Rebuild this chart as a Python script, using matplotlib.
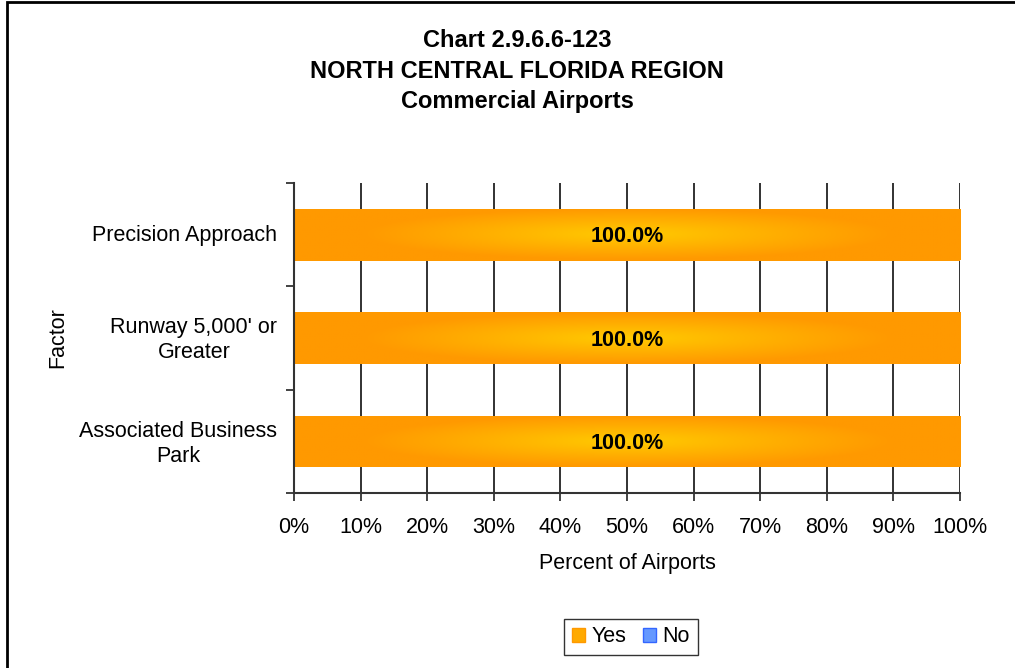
import numpy as np
import matplotlib
matplotlib.use("Agg")
import matplotlib.pyplot as plt
from matplotlib.patches import Rectangle, Patch
from matplotlib.colors import LinearSegmentedColormap

plt.rcParams['font.family'] = ['Liberation Sans', 'DejaVu Sans']

categories = ["Associated Business\nPark", "Runway 5,000' or\nGreater", "Precision Approach"]
yes_values = [100.0, 100.0, 100.0]
no_values = [0.0, 0.0, 0.0]
x_ticks = [0, 10, 20, 30, 40, 50, 60, 70, 80, 90, 100]
x_tick_labels = ["0%", "10%", "20%", "30%", "40%", "50%", "60%", "70%", "80%", "90%", "100%"]
title = "Chart 2.9.6.6-123\nNORTH CENTRAL FLORIDA REGION\nCommercial Airports"

W, H = 1015, 668
FS = 15.5
fig = plt.figure(figsize=(W / 100, H / 100), dpi=100)
ax = fig.add_axes([294 / W, 1 - 493 / H, (960 - 294) / W, (493 - 183) / H])

ypos = np.arange(len(categories))
bar_h = 0.5

ax.set_xlim(0, 100)
ax.set_ylim(-0.5, len(categories) - 0.5)

# gridlines
for xv in x_ticks[1:]:
    ax.axvline(xv, color='#222222', lw=1.3, zorder=1)

# gradient bars
cmap = LinearSegmentedColormap.from_list('og', ['#FFCC00', '#FFB300', '#FF9900'])
nx, ny = 300, 60
gx = np.linspace(0, 1, nx)
gy = np.linspace(0, 1, ny)
GX, GY = np.meshgrid(gx, gy)
D = np.sqrt(((GX - 0.5) / 0.4) ** 2 + ((GY - 0.5) / 0.5) ** 2)
D = np.clip(D, 0, 1) ** 0.9

bars = ax.barh(ypos, yes_values, height=bar_h, color='#FF9900', zorder=2, lw=0)
for b, v in zip(bars, yes_values):
    x0, y0 = b.get_x(), b.get_y()
    w, h = b.get_width(), b.get_height()
    im = ax.imshow(D, cmap=cmap, vmin=0, vmax=1, extent=[x0, x0 + w, y0, y0 + h],
                   aspect='auto', zorder=3, interpolation='bilinear')
    im.set_clip_path(b)
    ax.text(x0 + w / 2, y0 + h / 2 - 0.02, f"{v:.1f}%", ha='center', va='center',
            fontsize=FS, fontweight='bold', zorder=4)
ax.barh(ypos, no_values, left=yes_values, height=bar_h, color='#6699FF', zorder=2, lw=0)

ax.set_xticks(x_ticks)
ax.set_xticklabels(x_tick_labels, fontsize=FS)
ax.set_yticks(ypos + 0.02)
ax.set_yticklabels(categories, fontsize=FS, linespacing=1.25, ha='right',
                   multialignment='center')
ax.set_yticks(np.arange(-0.5, len(categories), 1.0), minor=True)
ax.tick_params(axis='y', which='major', length=0, pad=12)
ax.tick_params(axis='y', which='minor', length=6, width=1.2, color='#222222')
ax.tick_params(axis='x', which='major', length=6, width=1.2, color='#222222', pad=11)

for s in ['top', 'right']:
    ax.spines[s].set_visible(False)
for s in ['left', 'bottom']:
    ax.spines[s].set_color('#333333')
    ax.spines[s].set_linewidth(1.5)
ax.spines['left'].set_zorder(5)

ax.set_xlabel("Percent of Airports", fontsize=FS, labelpad=11)
ax.set_ylabel("Factor", fontsize=FS)
ax.yaxis.set_label_coords((68 - 294) / 666, 0.5)

fig.text(517 / W, 1 - 71 / H, title, ha='center', va='center', fontsize=17,
         fontweight='bold', linespacing=1.41)

# legend
handles = [Patch(facecolor='#FFAA00', edgecolor='#FF9900', label='Yes'),
           Patch(facecolor='#6699FF', edgecolor='#3366FF', label='No')]
leg = fig.legend(handles=handles, loc='center', bbox_to_anchor=(631 / W, 1 - 637 / H),
                 ncol=2, fontsize=FS, frameon=True, fancybox=False, handlelength=0.6,
                 handleheight=0.6, handletextpad=0.3, columnspacing=0.8, borderpad=0.35)
leg.get_frame().set_edgecolor('black')
leg.get_frame().set_linewidth(1.0)

# figure border
fig.patches.append(Rectangle((7 / W, -0.1), 1.2, 1 - 2 / H + 0.1, transform=fig.transFigure,
                             fill=False, edgecolor='black', lw=2, zorder=10))

fig.savefig('out.png', dpi=100)
